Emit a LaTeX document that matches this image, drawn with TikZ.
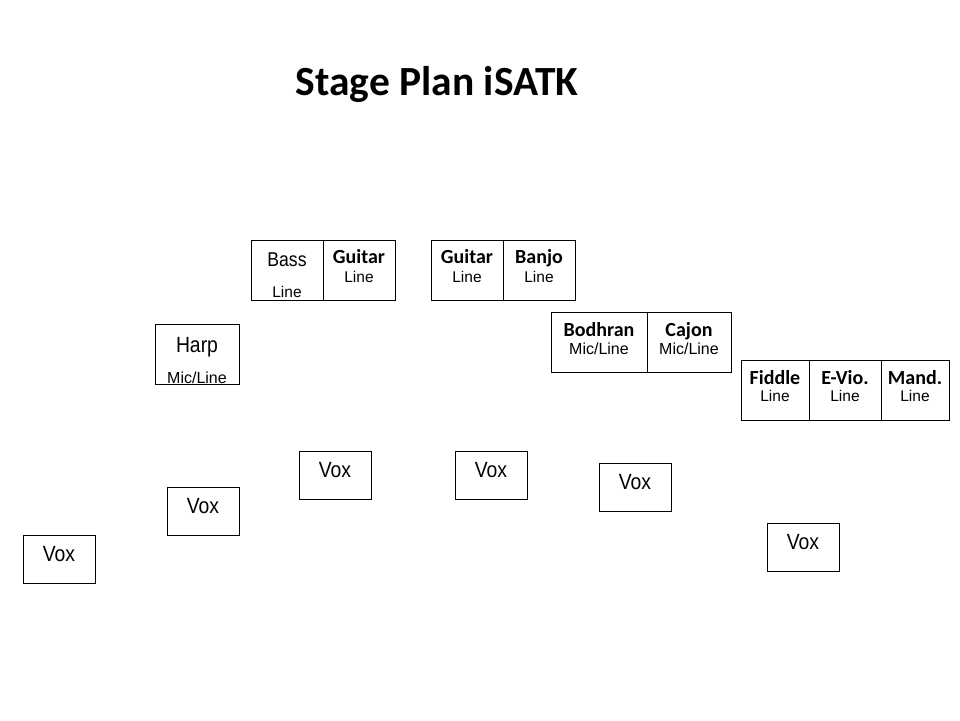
\documentclass[tikz,border=0pt]{standalone}
\usepackage{fontspec}
\setmainfont{Liberation Sans}
\newfontfamily\calib{Carlito}
\newfontfamily\narrowsans[FakeStretch=0.88]{Liberation Sans}
\begin{document}
\begin{tikzpicture}[x=1pt,y=-1pt,
  cell/.style={draw=black,line width=1pt,rectangle,inner sep=0pt,outer sep=0pt},
  vox/.style={cell,minimum width=72pt,minimum height=48pt},
  inst/.style={anchor=base,inner sep=0pt,font=\calib\bfseries\fontsize{20}{22}\selectfont},
  tah/.style={anchor=base,inner sep=0pt,font=\fontsize{15.5}{17}\selectfont},
  mic/.style={anchor=base,inner sep=0pt,font=\fontsize{16}{18}\selectfont},
  voxt/.style={anchor=base,inner sep=0pt,font=\narrowsans\fontsize{22}{24}\selectfont}]
\useasboundingbox (0,0) rectangle (960,720);
\node[anchor=base,inner sep=0pt,font=\calib\bfseries\fontsize{41.5}{44}\selectfont] (title) at (437,95) {Stage Plan iSATK};
% Bass / Guitar
\node[cell,minimum width=72pt,minimum height=60pt] (bass) at (287,270) {};
\node[cell,minimum width=72pt,minimum height=60pt] (guitarA) at (359,270) {};
\node[anchor=base,inner sep=0pt,font=\narrowsans\fontsize{20}{22}\selectfont] (tbass) at (287,266) {Bass};
\node[tah] (lbass) at (287,297) {Line};
\node[inst] (tguitarA) at (359,263) {Guitar};
\node[tah] (lguitarA) at (359,282) {Line};
% Guitar / Banjo
\node[cell,minimum width=72pt,minimum height=60pt] (guitarB) at (467,270) {};
\node[cell,minimum width=72pt,minimum height=60pt] (banjo) at (539,270) {};
\node[inst] (tguitarB) at (467,263) {Guitar};
\node[tah] (lguitarB) at (467,282) {Line};
\node[inst] (tbanjo) at (539,263) {Banjo};
\node[tah] (lbanjo) at (539,282) {Line};
% Harp
\node[cell,minimum width=84pt,minimum height=60pt] (harp) at (197,354) {};
\node[anchor=base,inner sep=0pt,font=\narrowsans\fontsize{22}{24}\selectfont] (tharp) at (197,352) {Harp};
\node[mic] (lharp) at (197,383) {Mic/Line};
% Bodhran / Cajon
\node[cell,minimum width=96pt,minimum height=60pt] (bodhran) at (599,342) {};
\node[cell,minimum width=84pt,minimum height=60pt] (cajon) at (689,342) {};
\node[inst] (tbodhran) at (599,336.5) {Bodhran};
\node[mic] (lbodhran) at (599,354.5) {Mic/Line};
\node[inst] (tcajon) at (689,336.5) {Cajon};
\node[mic] (lcajon) at (689,354.5) {Mic/Line};
% Fiddle / E-Vio / Mand
\node[cell,minimum width=68pt,minimum height=60pt] (fiddle) at (775,390) {};
\node[cell,minimum width=72pt,minimum height=60pt] (evio) at (845,390) {};
\node[cell,minimum width=68pt,minimum height=60pt] (mand) at (915,390) {};
\node[inst] (tfiddle) at (775,384) {Fiddle};
\node[tah] (lfiddle) at (775,401.5) {Line};
\node[inst] (tevio) at (845,384) {E-Vio.};
\node[tah] (levio) at (845,401.5) {Line};
\node[inst] (tmand) at (915,384) {Mand.};
\node[tah] (lmand) at (915,401.5) {Line};
% Vox boxes
\node[vox] (vox1) at (335,475) {};
\node[voxt] (tvox1) at (335,477) {Vox};
\node[vox] (vox2) at (491,475) {};
\node[voxt] (tvox2) at (491,477) {Vox};
\node[vox] (vox3) at (635,487) {};
\node[voxt] (tvox3) at (635,489) {Vox};
\node[vox] (vox4) at (203,511) {};
\node[voxt] (tvox4) at (203,513) {Vox};
\node[vox] (vox5) at (59,559) {};
\node[voxt] (tvox5) at (59,561) {Vox};
\node[vox] (vox6) at (803,547) {};
\node[voxt] (tvox6) at (803,549) {Vox};
\end{tikzpicture}
\end{document}
